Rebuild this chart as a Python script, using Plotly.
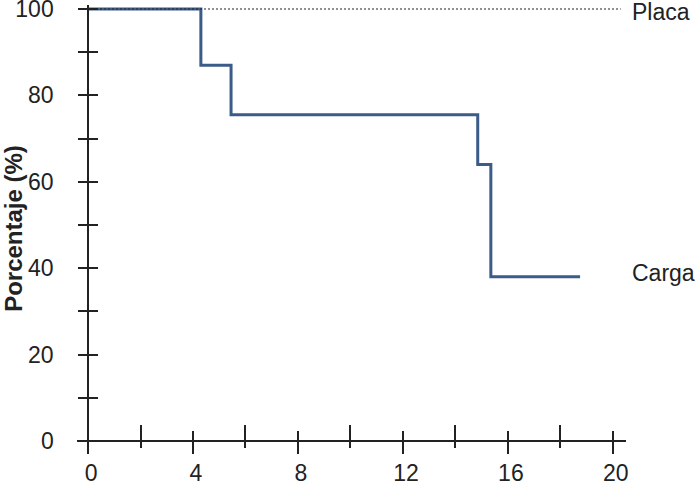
import plotly.graph_objects as go

# curva de Kaplan-Meier (grupo Carga) y referencia (grupo Placa)
carga_x = [0, 4.3, 5.45, 14.85, 15.35, 18.75]
carga_y = [100, 87, 75.5, 64, 38, 38]
placa_x = [0, 20.3]
placa_y = [100, 100]

x_ticks = [0, 4, 8, 12, 16, 20]
x_minor = [2, 6, 10, 14, 18]
y_ticks = [0, 20, 40, 60, 80, 100]
y_minor = [10, 30, 50, 70, 90]

x_rng = [-0.42, 20.5]
y_rng = [-2.55, 100.93]
xpos = (0 - y_rng[0]) / (y_rng[1] - y_rng[0])   # donde cae y=0
ypos = (0 - x_rng[0]) / (x_rng[1] - x_rng[0])   # donde cae x=0

ink = '#222222'
fuente = dict(family='Liberation Sans, Arial, sans-serif', size=23, color=ink)

fig = go.Figure()
fig.add_trace(go.Scatter(x=placa_x, y=placa_y, mode='lines', xaxis='x2', yaxis='y2',
                         line=dict(color=ink, width=1.2, dash='2px,2px'), hoverinfo='skip'))
fig.add_trace(go.Scatter(x=carga_x, y=carga_y, mode='lines', line_shape='hv',
                         line=dict(color='#3b5b88', width=3)))

# etiquetas a la derecha del área de trazado
etq_x = (20.66 - x_rng[0]) / (x_rng[1] - x_rng[0])
fig.add_annotation(x=etq_x, xref='paper', y=99.2, yref='y', text='Placa', showarrow=False,
                   xanchor='left', font=fuente)
fig.add_annotation(x=etq_x, xref='paper', y=39, yref='y', text='Carga', showarrow=False,
                   xanchor='left', font=fuente)

eje_x = dict(range=x_rng, anchor='free', position=xpos, showline=True, linecolor=ink,
             linewidth=1.5, showgrid=False, zeroline=False, tickmode='array',
             tickvals=x_ticks, tickcolor=ink, tickwidth=1.5, automargin=False,
             ticklabeloverflow='allow')
eje_y = dict(range=y_rng, anchor='free', position=ypos, showline=True, linecolor=ink,
             linewidth=1.5, showgrid=False, zeroline=False, tickmode='array',
             tickvals=y_ticks, tickcolor=ink, tickwidth=1.5, automargin=False,
             ticklabeloverflow='allow')

fig.update_layout(
    width=697, height=487, showlegend=False,
    plot_bgcolor='white', paper_bgcolor='white',
    margin=dict(l=77, r=71, t=5, b=35),
    font=fuente,
    xaxis=dict(eje_x, ticks='outside', ticklen=12, tickfont=fuente, ticklabelstandoff=0,
               ticklabelshift=3,
               minor=dict(tickmode='array', tickvals=x_minor, ticks='outside',
                          ticklen=6, tickcolor=ink, tickwidth=1.5)),
    yaxis=dict(eje_y, ticks='outside', ticklen=9, tickfont=fuente, ticklabelstandoff=20,
               title=dict(text='<b>Porcentaje (%)</b>', font=dict(fuente, size=24),
                          standoff=0),
               minor=dict(tickmode='array', tickvals=y_minor, ticks='outside',
                          ticklen=9, tickcolor=ink, tickwidth=1.5)),
    xaxis2=dict(eje_x, overlaying='x', showline=False, ticks='inside', ticklen=10,
                showticklabels=False,
                minor=dict(tickmode='array', tickvals=x_minor, ticks='inside',
                           ticklen=16, tickcolor=ink, tickwidth=1.5)),
    yaxis2=dict(eje_y, overlaying='y', showline=False, ticks='inside', ticklen=9,
                showticklabels=False,
                minor=dict(tickmode='array', tickvals=y_minor, ticks='inside',
                           ticklen=9, tickcolor=ink, tickwidth=1.5)),
)

# quitar el margen por defecto del <body> para que la figura ocupe toda la ventana
fig.write_html('out.html', config={'displayModeBar': False},
               post_script="document.body.style.margin='0';")
